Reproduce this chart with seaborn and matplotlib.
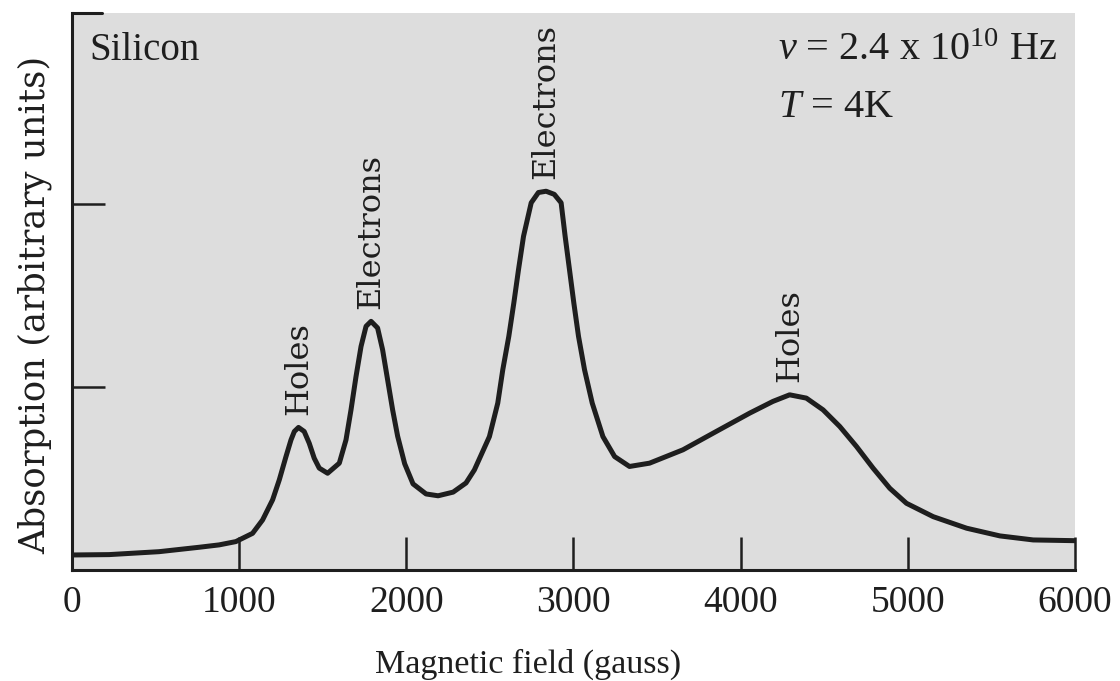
import matplotlib
matplotlib.use("Agg")
import matplotlib.pyplot as plt
import seaborn as sns
import pandas as pd

# ---- data ----
field_gauss = [0, 222, 521, 760, 880, 980, 1080, 1140, 1200, 1240, 1280, 1310, 1330,
               1355, 1389, 1419, 1449, 1479, 1529, 1599, 1639, 1669, 1699, 1729, 1759,
               1789, 1828, 1858, 1888, 1918, 1948, 1990, 2040, 2118, 2190, 2280, 2357,
               2407, 2497, 2547, 2577, 2613, 2643, 2671, 2701, 2747, 2790, 2836, 2885,
               2926, 2950, 2976, 3002, 3030, 3066, 3112, 3176, 3246, 3335, 3455, 3655,
               3854, 4054, 4193, 4293, 4393, 4493, 4593, 4693, 4792, 4892, 4992, 5152,
               5352, 5551, 5750, 6000]
absorption = [0.082, 0.084, 0.100, 0.124, 0.137, 0.155, 0.200, 0.273, 0.383, 0.492, 0.619,
              0.710, 0.756, 0.778, 0.756, 0.692, 0.610, 0.556, 0.528, 0.583, 0.710, 0.874,
              1.056, 1.220, 1.330, 1.357, 1.321, 1.202, 1.038, 0.874, 0.730, 0.580, 0.470,
              0.415, 0.405, 0.425, 0.475, 0.546, 0.728, 0.911, 1.093, 1.275, 1.457, 1.639,
              1.821, 2.004, 2.060, 2.067, 2.050, 2.004, 1.821, 1.639, 1.457, 1.275, 1.093,
              0.911, 0.728, 0.619, 0.565, 0.583, 0.656, 0.756, 0.856, 0.920, 0.956, 0.938,
              0.874, 0.783, 0.674, 0.556, 0.446, 0.364, 0.291, 0.228, 0.186, 0.164, 0.160]

x_ticks = [0, 1000, 2000, 3000, 4000, 5000, 6000]
x_tick_labels = ["0", "1000", "2000", "3000", "4000", "5000", "6000"]
y_ticks = [1, 2]

peak_labels = ["Holes", "Electrons", "Electrons", "Holes"]
peak_fields = [1355, 1789, 2836, 4293]
peak_heights = [0.778, 1.357, 2.067, 0.956]

x_label = "Magnetic field (gauss)"
y_label = "Absorption (arbitrary units)"
sample_text = "Silicon"
freq_text = r"$\it{\nu}$ = 2.4 x 10$^{10}$ Hz"
temp_text = r"$\it{T}$ = 4K"

# ---- style ----
sns.set_theme(style="ticks")
plt.rcParams["font.family"] = ["Liberation Serif", "DejaVu Serif"]
plt.rcParams["mathtext.fontset"] = "custom"
plt.rcParams["mathtext.rm"] = "Liberation Serif"
plt.rcParams["mathtext.it"] = "Liberation Serif:italic"

ink = "#1e1e1e"
fig = plt.figure(figsize=(11.2, 6.81), dpi=100)
fig.patch.set_facecolor("white")
ax = fig.add_axes([0.0643, 0.163, 0.8955, 0.818])
ax.set_facecolor("#dddddd")

df = pd.DataFrame({"field": field_gauss, "absorption": absorption})
sns.lineplot(data=df, x="field", y="absorption", ax=ax, color=ink, linewidth=3.6,
             estimator=None, sort=False, solid_joinstyle="round", solid_capstyle="round")

ax.set_xlim(0, 6000)
ax.set_ylim(0, 3.04)
ax.set_xticks(x_ticks)
ax.set_xticklabels(x_tick_labels)
ax.set_yticks(y_ticks)
ax.set_yticklabels([])
ax.tick_params(axis="both", direction="in", length=24, width=1.8, color=ink,
               labelcolor=ink, labelsize=27, pad=11)

for side in ["top", "right"]:
    ax.spines[side].set_visible(False)
for side in ["left", "bottom"]:
    ax.spines[side].set_linewidth(2.2)
    ax.spines[side].set_color(ink)
# short stub of the top frame line at the upper-left corner
ax.plot([0, 0.03], [1, 1], transform=ax.transAxes, color=ink, lw=2.2, clip_on=False)

ax.set_xlabel(x_label, fontsize=24.5, color=ink)
ax.xaxis.set_label_coords(0.455, -0.142)
ax.set_ylabel(y_label, fontsize=25.5, color=ink, family=["DejaVu Serif"])
ax.yaxis.set_label_coords(-0.020, 0.476)

for lab, fx, hy in zip(peak_labels, peak_fields, peak_heights):
    ax.annotate(lab, xy=(fx, hy), xytext=(0, 9), textcoords="offset points",
                rotation=90, ha="center", va="bottom", fontsize=23, color=ink,
                family=["DejaVu Serif"])

ax.text(0.017, 0.916, sample_text, transform=ax.transAxes, fontsize=28,
        color=ink, ha="left", va="baseline")
ax.text(0.7036, 0.916, freq_text, transform=ax.transAxes, fontsize=29,
        color=ink, ha="left", va="baseline")
ax.text(0.7036, 0.8125, temp_text, transform=ax.transAxes, fontsize=29,
        color=ink, ha="left", va="baseline")

fig.savefig("out.png", dpi=100, facecolor="white")
